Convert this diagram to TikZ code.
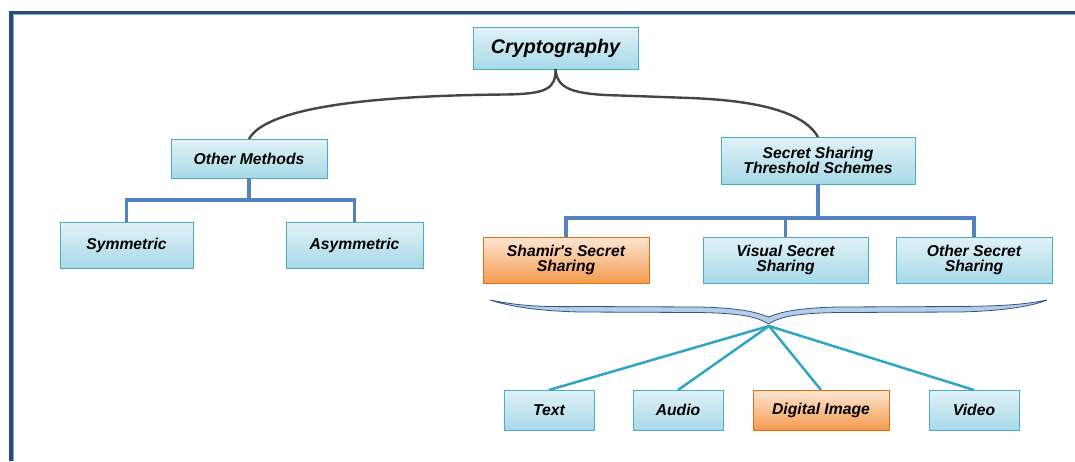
\documentclass[tikz,border=0pt]{standalone}
\usepackage{fontspec}
\setmainfont{Liberation Sans}
\begin{document}
\begin{tikzpicture}[x=1pt,y=-1pt,
  every node/.style={inner sep=0pt, outer sep=0pt, text=black},
  lbl/.style={font=\fontsize{15.7}{15.5}\selectfont\bfseries\itshape, align=center},
  bluebox/.style={lbl, rectangle, draw=boxedge, line width=0.9pt,
                  top color=boxtop, bottom color=boxbot},
  orangebox/.style={lbl, rectangle, draw=oredge, line width=0.9pt,
                  top color=ortop, bottom color=orbot},
  tree/.style={draw=elbow, line width=3.2pt},
  arc/.style={draw=arcgray, line width=2.4pt},
  fan/.style={draw=fanline, line width=2.5pt}]

\definecolor{boxtop}{HTML}{E2F2F8}
\definecolor{boxbot}{HTML}{A6D9E7}
\definecolor{boxedge}{HTML}{4AACC6}
\definecolor{ortop}{HTML}{FDE6D4}
\definecolor{orbot}{HTML}{F59B4E}
\definecolor{oredge}{HTML}{E46C0A}
\definecolor{elbow}{HTML}{5282C0}
\definecolor{arcgray}{HTML}{454545}
\definecolor{fanline}{HTML}{2FA5C4}
\definecolor{frame}{HTML}{244C7E}
\definecolor{framelight}{HTML}{8AA8CF}
\definecolor{bracefill}{HTML}{B9CCE6}
\definecolor{braceedge}{HTML}{2E5487}

\useasboundingbox (0,0) rectangle (1075,461);

% page frame (top and left edges)
\draw[framelight, line width=0.9pt] (13.2,461) -- (13.2,14.7) -- (1075,14.7);
\draw[frame, line width=3.6pt] (11,461) -- (11,12.5) -- (1075,12.5);

% boxes
\node[bluebox, minimum width=165, minimum height=42,
      font=\fontsize{19.7}{19.7}\selectfont\bfseries\itshape] (crypto) at (555.5,48) {Cryptography};
\node[bluebox, minimum width=156, minimum height=39] (other) at (249,158.5) {Other Methods};
\node[bluebox, minimum width=133, minimum height=46] (sym) at (126.5,245) {Symmetric};
\node[bluebox, minimum width=137, minimum height=46] (asym) at (354.5,245) {Asymmetric};
\node[bluebox, minimum width=194, minimum height=47] (sss) at (818,160.5) {Secret Sharing\\Threshold Schemes};
\node[orangebox, minimum width=166, minimum height=46] (shamir) at (566,260) {Shamir\textquotesingle s Secret\\Sharing};
\node[bluebox, minimum width=165, minimum height=46] (visual) at (785.5,260) {Visual Secret\\Sharing};
\node[bluebox, minimum width=156, minimum height=46] (othss) at (974,260) {Other Secret\\Sharing};
\node[bluebox, minimum width=90, minimum height=40] (text) at (549,410) {Text};
\node[bluebox, minimum width=90, minimum height=40] (audio) at (678,410) {Audio};
\node[orangebox, minimum width=136, minimum height=40] (digital) at (821,410) {Digital Image};
\node[bluebox, minimum width=90, minimum height=40] (video) at (974,410) {Video};

% curved links from the root
\draw[arc] (crypto.south) .. controls (556,89) and (546,94) .. (505,94.5)
  .. controls (330,96) and (262,115) .. (other.north);
\draw[arc] (crypto.south) .. controls (557,88) and (570,94.5) .. (620,95.5)
  -- (690,98) .. controls (770,101) and (806,116) .. (sss.north);

% elbow links
\draw[tree] (other.south) -- ++(0,22) -| (sym.north);
\draw[tree] (other.south) -- ++(0,22) -| (asym.north);
\draw[tree] (sss.south) -- ++(0,34) -| (shamir.north);
\draw[tree] (sss.south) -- ++(0,34) -| (visual.north);
\draw[tree] (sss.south) -- ++(0,34) -| (othss.north);

% brace under the schemes
\coordinate (apex) at (769,326);
\filldraw[fill=bracefill, draw=braceedge, line width=0.8pt]
  (490,300) .. controls (520,306) and (540,307) .. (580,306.5) -- (700,307)
  .. controls (740,308) and (756,312) .. (768.5,317)
  .. controls (781,312) and (797,308) .. (837,307) -- (960,306.5)
  .. controls (1000,306) and (1022,305) .. (1047,300)
  .. controls (1030,307) and (1000,311) .. (960,312) -- (840,312.5)
  .. controls (800,313) and (781,316) .. (768.5,324)
  .. controls (756,316) and (737,313) .. (697,312.5) -- (580,312)
  .. controls (540,311) and (512,307) .. (490,300) -- cycle;

% fan to the media types
\draw[fan] (apex) -- (text.north);
\draw[fan] (apex) -- (audio.north);
\draw[fan] (apex) -- (digital.north);
\draw[fan] (apex) -- (video.north);
\end{tikzpicture}
\end{document}
